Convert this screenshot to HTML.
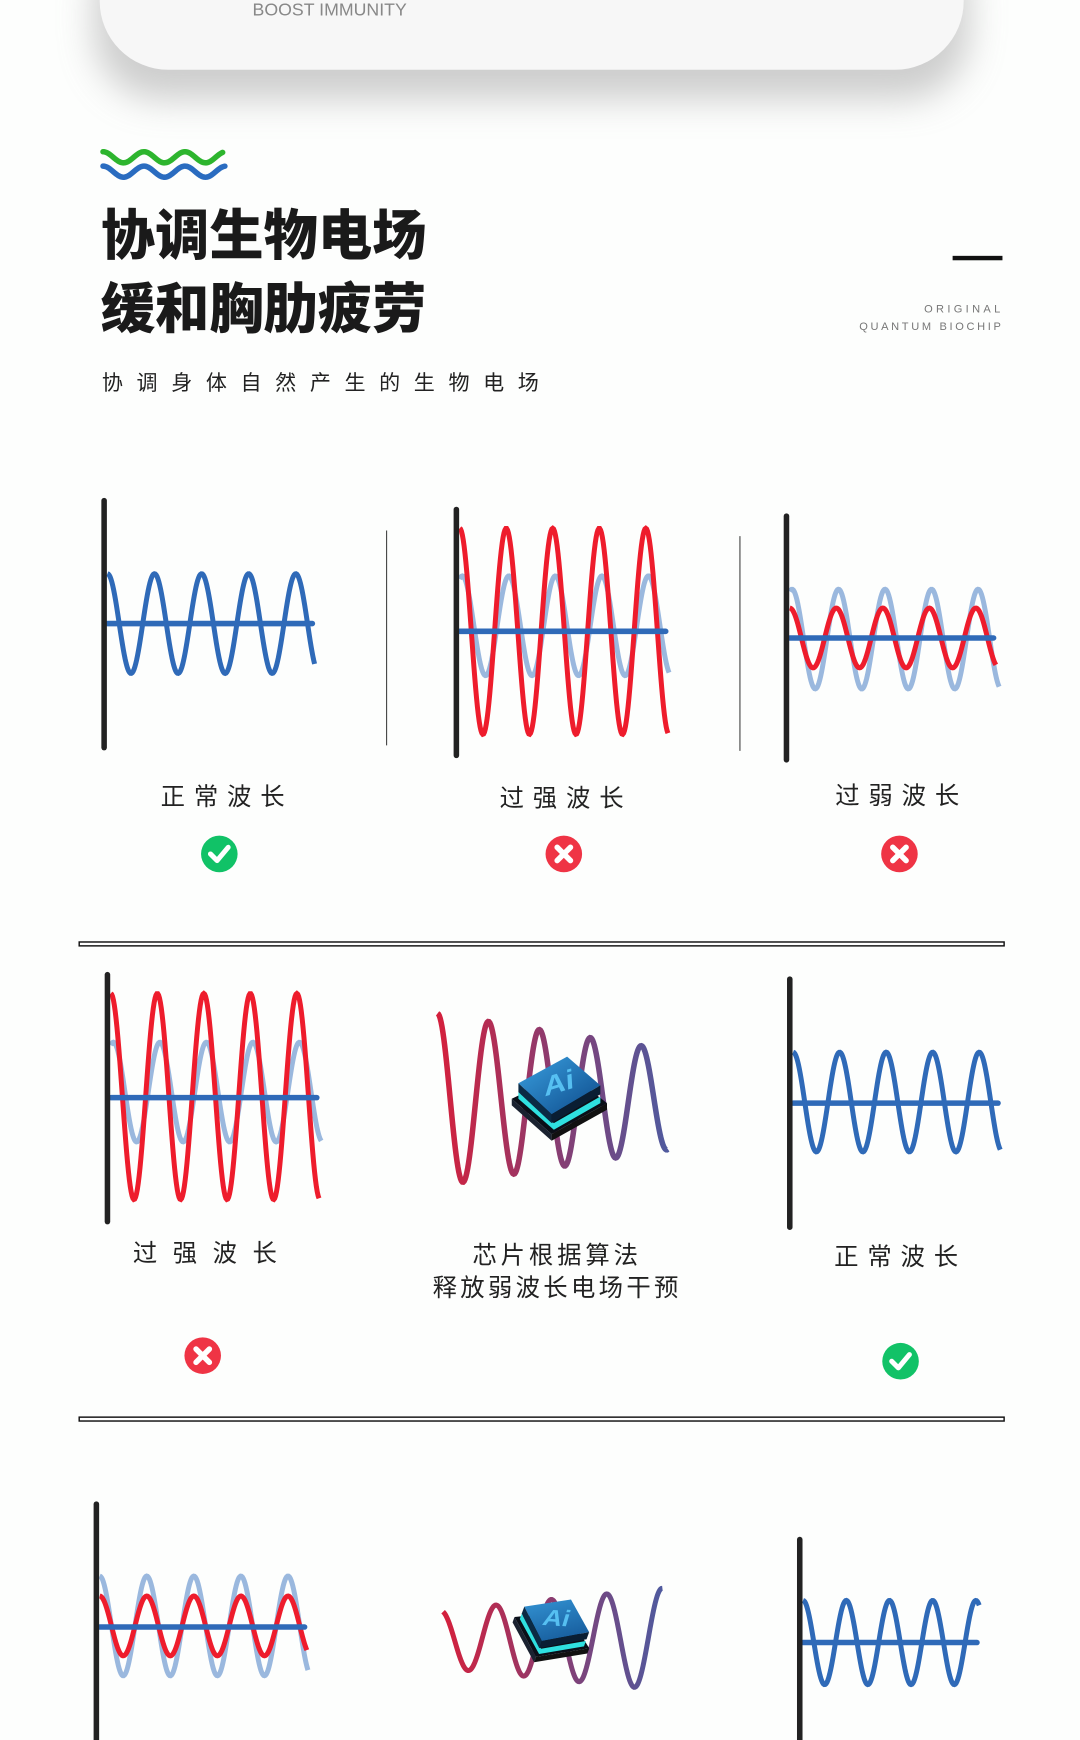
<!DOCTYPE html>
<html><head><meta charset="utf-8">
<style>
html,body{margin:0;padding:0;background:#fdfefd;}
svg{display:block}
text{font-family:"Liberation Sans","Noto Sans CJK SC",sans-serif;}
</style></head>
<body>
<svg id="s" width="1080" height="1740" viewBox="0 0 975 1571" preserveAspectRatio="none" xmlns="http://www.w3.org/2000/svg">
<defs>
  <filter id="sh" x="-20%" y="-50%" width="140%" height="250%">
    <feGaussianBlur stdDeviation="16"/>
  </filter>
  <linearGradient id="g1" x1="0" x2="1" y1="0" y2="0">
    <stop offset="0" stop-color="#d4203c"/><stop offset="0.5" stop-color="#8a3c70"/><stop offset="1" stop-color="#4f5a9e"/>
  </linearGradient>
  <linearGradient id="chipTop" x1="0" y1="0" x2="1" y2="1">
    <stop offset="0" stop-color="#3aa0e0"/><stop offset="1" stop-color="#0d4a8a"/>
  </linearGradient>
  <g id="chip">
    <polygon points="-40,2 10,-22 46,6 -4,34" fill="#0a0f18"/>
    <polygon points="-40,2 -4,34 -4,40 -40,8" fill="#1a2230"/>
    <polygon points="-4,34 46,6 46,12 -4,40" fill="#111"/>
    <polygon points="-34,-4 -2,24 40,0 40,6 -2,30 -34,2" fill="#2fe0e0"/>
    <polygon points="-34,-12 10,-36 40,-10 -4,16" fill="url(#chipTop)"/>
    <polygon points="-34,-12 -4,16 -4,24 -34,-4" fill="#0b2a44"/>
    <polygon points="-4,16 40,-10 40,-2 -4,24" fill="#0a1e33"/>
    <text x="2" y="-4" font-size="26" fill="#5cc8f8" transform="skewX(-15) rotate(-18 2 -4)" text-anchor="middle" font-weight="bold" opacity="0.9">Ai</text>
  </g>
</defs>

<!-- top card -->
<rect x="85" y="-60" width="790" height="150" rx="60" fill="#bdbdbd" filter="url(#sh)" opacity="0.75"/>
<rect x="90" y="-80" width="780" height="143" rx="62" fill="#f7f7f7"/>
<text x="228" y="14" font-size="16" fill="#888">BOOST IMMUNITY</text>

<path id="lg" d="" fill="none" stroke="#2db52e" stroke-width="5" stroke-linecap="round"/>
<path id="lb" d="" fill="none" stroke="#2a6cc0" stroke-width="5" stroke-linecap="round"/>

<text x="91" y="230" font-size="49" fill="#1a1a1a" font-family="'Noto Sans CJK SC',sans-serif" style="font-weight:900">协调生物电场</text>
<text x="91" y="296" font-size="49" fill="#1a1a1a" font-family="'Noto Sans CJK SC',sans-serif" style="font-weight:900">缓和胸肋疲劳</text>
<rect x="860" y="231" width="45" height="4" fill="#111"/>
<text x="906" y="282" font-size="10" fill="#777" text-anchor="end" letter-spacing="3">ORIGINAL</text>
<text x="906" y="298" font-size="10" fill="#777" text-anchor="end" letter-spacing="2.4">QUANTUM BIOCHIP</text>
<text x="92" y="352" font-size="19" fill="#222" letter-spacing="12.3">协调身体自然产生的生物电场</text>

<g id="waves"></g>

<g stroke="#222" stroke-width="5" stroke-linecap="round">
  <line x1="94" y1="452" x2="94" y2="675"/>
  <line x1="412" y1="460" x2="412" y2="682"/>
  <line x1="710" y1="466" x2="710" y2="686"/>
  <line x1="97" y1="880" x2="97" y2="1103"/>
  <line x1="713" y1="884" x2="713" y2="1108"/>
  <line x1="87" y1="1358" x2="87" y2="1575"/>
  <line x1="722" y1="1390" x2="722" y2="1575"/>
</g>
<line x1="349" y1="479" x2="349" y2="673" stroke="#444" stroke-width="1"/>
<line x1="668" y1="484" x2="668" y2="678" stroke="#444" stroke-width="1"/>

<g font-size="22" fill="#222" text-anchor="middle">
  <text x="205" y="727" letter-spacing="8">正常波长</text>
  <text x="511" y="728" letter-spacing="8">过强波长</text>
  <text x="814" y="726" letter-spacing="8">过弱波长</text>
  <text x="192" y="1139" letter-spacing="14">过强波长</text>
  <text x="503" y="1141" letter-spacing="3.5">芯片根据算法</text>
  <text x="503" y="1170" letter-spacing="3">释放弱波长电场干预</text>
  <text x="813" y="1142" letter-spacing="8">正常波长</text>
</g>

<g transform="translate(198,771)"><circle r="16.5" fill="#11c267"/><path d="M-8,0 L-2,6 L8,-6" fill="none" stroke="#fff" stroke-width="4.5" stroke-linecap="round" stroke-linejoin="round"/></g>
<g transform="translate(509,771)"><circle r="16.5" fill="#ef3445"/><path d="M-6,-6 L6,6 M6,-6 L-6,6" stroke="#fff" stroke-width="5" stroke-linecap="round"/></g>
<g transform="translate(812,771)"><circle r="16.5" fill="#ef3445"/><path d="M-6,-6 L6,6 M6,-6 L-6,6" stroke="#fff" stroke-width="5" stroke-linecap="round"/></g>
<g transform="translate(183,1224)"><circle r="16.5" fill="#ef3445"/><path d="M-6,-6 L6,6 M6,-6 L-6,6" stroke="#fff" stroke-width="5" stroke-linecap="round"/></g>
<g transform="translate(813,1229)"><circle r="16.5" fill="#11c267"/><path d="M-8,0 L-2,6 L8,-6" fill="none" stroke="#fff" stroke-width="4.5" stroke-linecap="round" stroke-linejoin="round"/></g>

<rect x="71.5" y="850.5" width="835" height="3.5" fill="#fff" stroke="#111" stroke-width="1.3"/>
<rect x="71.5" y="1279.5" width="835" height="3.5" fill="#fff" stroke="#111" stroke-width="1.3"/>

<g id="chips">
  <use href="#chip" transform="translate(502,990)"/>
  <use href="#chip" transform="translate(497,1470) rotate(20) scale(0.85)"/>
</g>
</svg>
<script>
function wave(x0,x1,cy,a0,a1,P,ph){
  var d="",n=Math.ceil((x1-x0)/0.8);
  for(var i=0;i<=n;i++){var x=x0+(x1-x0)*i/n;var t=(x-x0)/(x1-x0);var a=a0+(a1-a0)*t;
    var y=cy-a*Math.cos(2*Math.PI*(x-x0)/P+ph);d+=(i?"L":"M")+x.toFixed(2)+","+y.toFixed(2);}
  return d;
}
var NS="http://www.w3.org/2000/svg",W=document.getElementById("waves");
function add(d,c,w,o){var p=document.createElementNS(NS,"path");p.setAttribute("d",d);p.setAttribute("fill","none");
  p.setAttribute("stroke",c);p.setAttribute("stroke-width",w);if(o)p.setAttribute("opacity",o);W.appendChild(p);}
function line(x0,x1,y){var p=document.createElementNS(NS,"line");p.setAttribute("x1",x0);p.setAttribute("x2",x1);p.setAttribute("y1",y);p.setAttribute("y2",y);
  p.setAttribute("stroke","#2f6ab8");p.setAttribute("stroke-width",5);p.setAttribute("stroke-linecap","round");W.appendChild(p);}
var B="#2f6ab8",LB="#9ab8de",R="#ee1c2c";
document.getElementById("lg").setAttribute("d",wave(93,201,142,5,5,37,0));
document.getElementById("lb").setAttribute("d",wave(93,203,155,5,5,37,0));
add(wave(97,284,563,45,45,42.5,0),B,4.5); line(97,282,563);
add(wave(415,604,565,45,45,42,-0.35),LB,4.5); add(wave(415,603,570,93,93,42,0),R,4.5); line(415,601,570);
add(wave(713,902,577,45,45,42,-0.3),LB,4.5); add(wave(713,899,576,27,27,42,0),R,4.5); line(713,897,576);
add(wave(100,290,986,45,45,42,-0.35),LB,4.5); add(wave(100,288,990,93,93,42,0),R,4.5); line(100,286,991);
add(wave(395,603,993,78,45,46,0),"url(#g1)",5);
add(wave(716,903,995,45,45,42,0),B,4.5); line(716,901,996);
add(wave(90,278,1468,45,45,42.5,0),LB,4.5); add(wave(90,277,1468,27,27,42.5,0),R,4.5); line(90,275,1469);
add(wave(400,598,1480,26,46,50,0.3),"url(#g1)",4.5);
add(wave(725,884,1483,38,38,39,0),B,4.5); line(725,882,1483);
</script>
</body></html>
